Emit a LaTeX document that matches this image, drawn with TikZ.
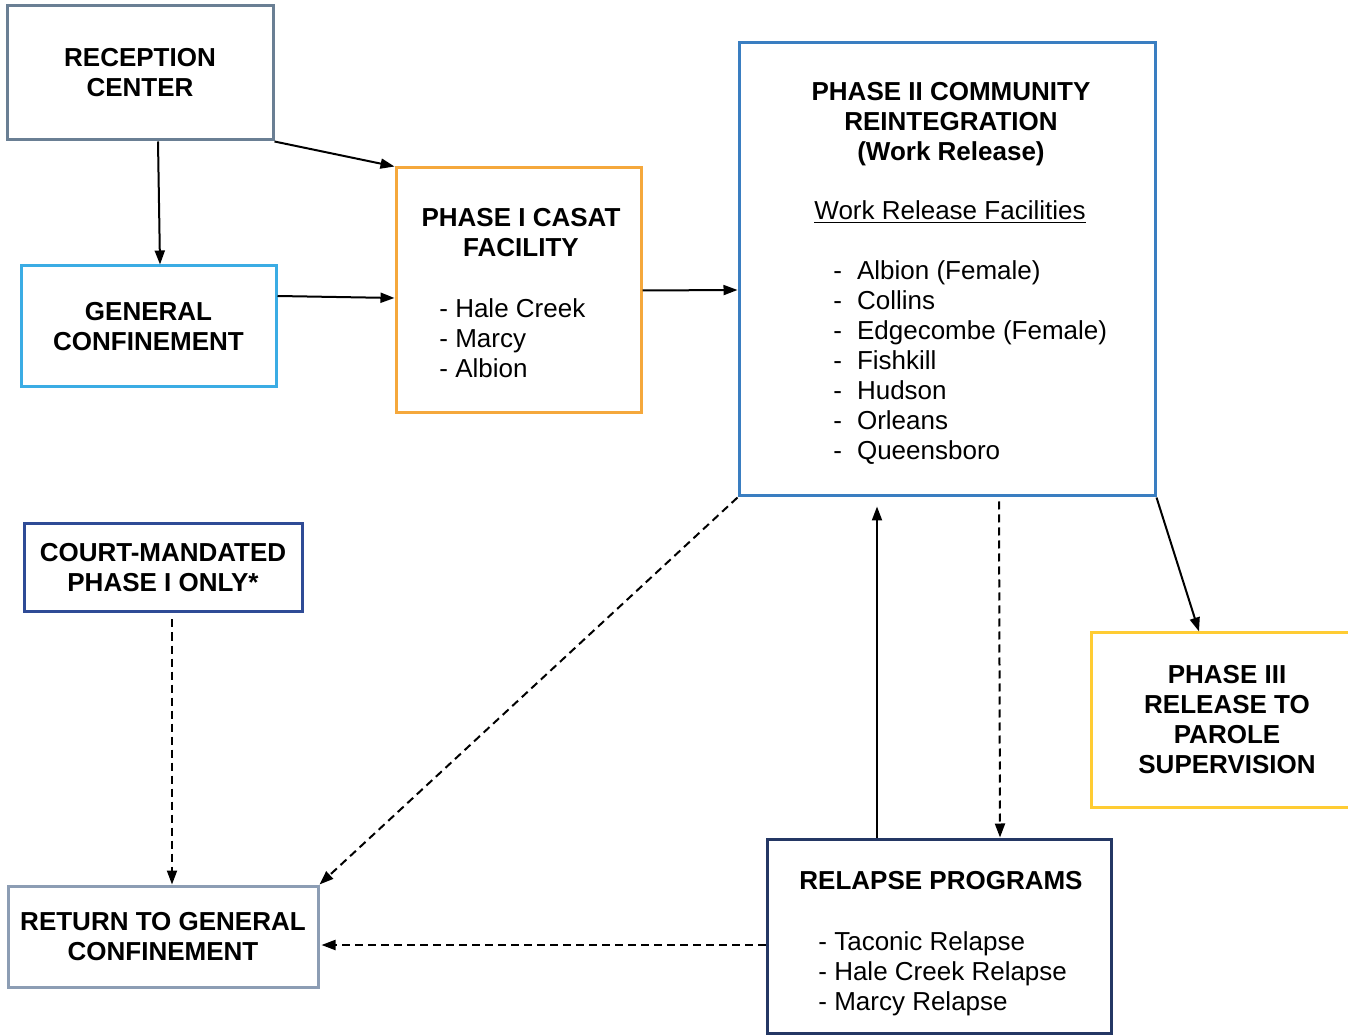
\documentclass[tikz,border=0pt]{standalone}
\usepackage{fontspec}
\setmainfont{Liberation Sans}
\usetikzlibrary{arrows.meta}

\definecolor{recepgray}{RGB}{106,127,148}
\definecolor{genblue}{RGB}{59,172,228}
\definecolor{casatorange}{RGB}{245,168,60}
\definecolor{wrblue}{RGB}{58,126,193}
\definecolor{paroleyellow}{RGB}{255,204,51}
\definecolor{courtblue}{RGB}{47,75,150}
\definecolor{returngray}{RGB}{140,157,180}
\definecolor{relapsenavy}{RGB}{36,55,100}

\tikzset{
  stagebox/.style={draw, line width=1.5pt, inner sep=0pt, align=center,
    font=\fontsize{13}{15}\selectfont\bfseries},
  boxtitle/.style={align=center, inner sep=0pt, font=\fontsize{13}{15}\selectfont\bfseries},
  boxlist/.style={anchor=base west, inner sep=0pt, font=\fontsize{13}{15}\selectfont},
  flow/.style={-{Triangle[length=7pt,width=5pt]}, line width=1pt},
  dashflow/.style={flow, dash pattern=on 4pt off 2.5pt},
}

\begin{document}
\begin{tikzpicture}[x=0.5pt, y=-0.5pt]
% page frame
\clip (0,0) rectangle (1348,1036);

% the stages
\node[stagebox, draw=recepgray, minimum width=133pt, minimum height=67pt] (reception) at (140,73) {RECEPTION\\CENTER};
\node[stagebox, draw=genblue, minimum width=127.5pt, minimum height=60.5pt] (general) at (148.5,326.5) {GENERAL\\CONFINEMENT};
\node[stagebox, draw=casatorange, minimum width=122.5pt, minimum height=122.5pt] (casat) at (518.5,290.5) {};
\node[stagebox, draw=wrblue, minimum width=208pt, minimum height=226.5pt] (phasetwo) at (947,269.5) {};
\node[stagebox, draw=paroleyellow, minimum width=136pt, minimum height=87pt] (phasethree) at (1227,720) {PHASE III\\RELEASE TO\\PAROLE\\SUPERVISION};
\node[stagebox, draw=courtblue, minimum width=139pt, minimum height=44pt] (court) at (163,568) {COURT-MANDATED\\PHASE I ONLY*};
\node[stagebox, draw=returngray, minimum width=155pt, minimum height=50.5pt] (return) at (163,936.5) {RETURN TO GENERAL\\CONFINEMENT};
\node[stagebox, draw=relapsenavy, minimum width=172pt, minimum height=97pt] (relapse) at (939,936) {};

% texts inside the list boxes
\node[boxtitle] (casattitle) at (521,233) {PHASE I CASAT\\FACILITY};
\node[boxlist] (casatlist) at (439,318) {\begin{tabular}[t]{@{}l@{}}
  - Hale Creek\\ - Marcy\\ - Albion\end{tabular}};

\node[boxtitle] (wrtitle) at (951,124) {PHASE II COMMUNITY\\REINTEGRATION\\(Work Release)};
\node[inner sep=0pt, font=\fontsize{13}{15}\selectfont] (wrsub) at (950,212) {\underline{Work Release Facilities}};
\node[boxlist] (wrlist) at (833,280) {\begin{tabular}[t]{@{}l@{\hspace{7.5pt}}l@{}}
  -&Albion (Female)\\ -&Collins\\ -&Edgecombe (Female)\\ -&Fishkill\\
  -&Hudson\\ -&Orleans\\ -&Queensboro\end{tabular}};

\node[boxtitle] (relapsetitle) at (941,881) {RELAPSE PROGRAMS};
\node[boxlist] (relapselist) at (818,950) {\begin{tabular}[t]{@{}l@{}}
  - Taconic Relapse\\ - Hale Creek Relapse\\ - Marcy Relapse\end{tabular}};

% solid connectors
\draw[flow] ([xshift=9pt]reception.south) -- ([xshift=5.75pt]general.north);
\draw[flow] (reception.south east) -- (casat.north west);
\draw[flow] ([yshift=15.25pt]general.east) -- ([yshift=-3.75pt]casat.west);
\draw[flow] (casat.east) -- ([yshift=-10.25pt]phasetwo.west);
\draw[flow] (phasetwo.south east) -- ([xshift=-14pt]phasethree.north);
\draw[flow] ([xshift=-31pt]relapse.north) -- ([xshift=-35pt,yshift=-4.5pt]phasetwo.south);

% dashed connectors
\draw[dashflow] (phasetwo.south west) -- (return.north east);
\draw[dashflow] ([xshift=26pt,yshift=-2pt]phasetwo.south) -- ([xshift=30.5pt]relapse.north);
\draw[dashflow] ([yshift=-4.5pt]relapse.west) -- ([yshift=-4.25pt,xshift=1pt]return.east);
\draw[dashflow] ([xshift=4.5pt,yshift=-3pt]court.south) -- ([xshift=4.5pt]return.north);
\end{tikzpicture}
\end{document}
